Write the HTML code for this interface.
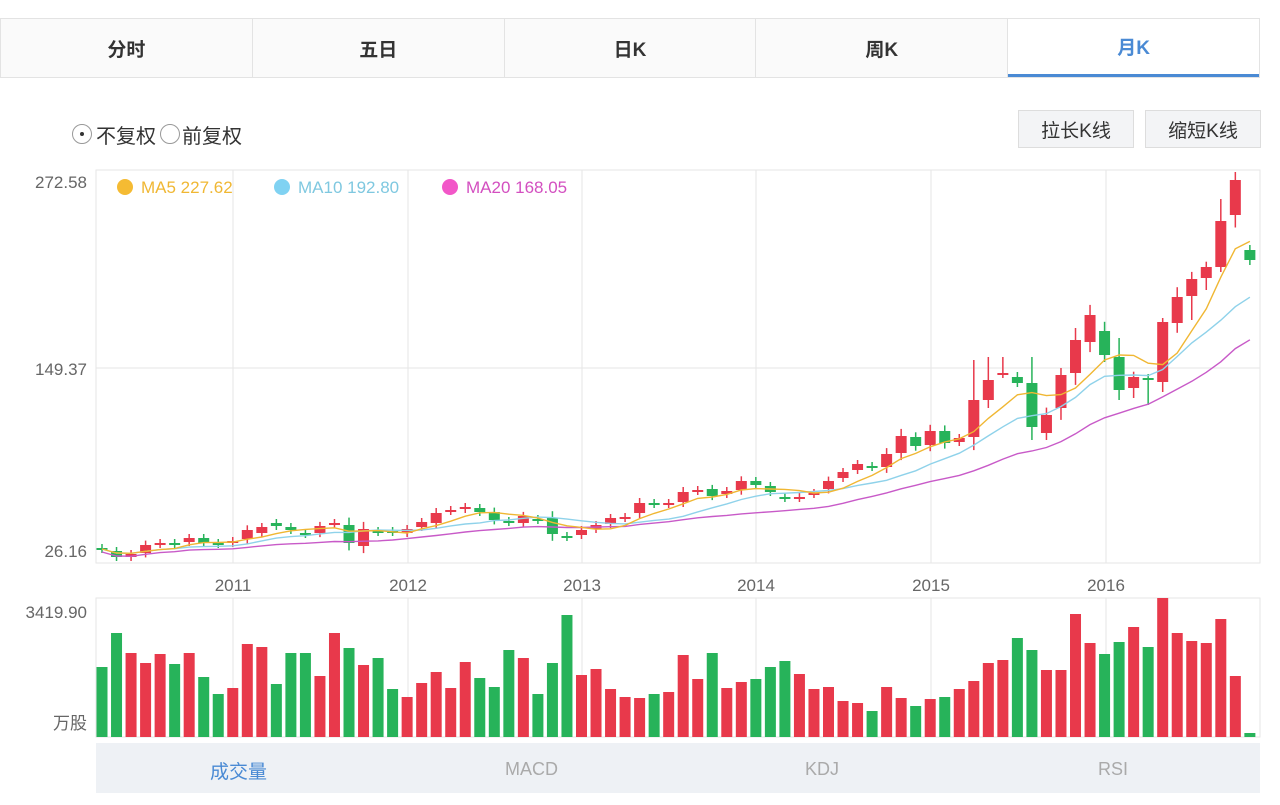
<!DOCTYPE html><html><head><meta charset="utf-8"><style>
body{margin:0;width:1280px;height:805px;background:#fff;font-family:"Liberation Sans","Noto Sans CJK SC",sans-serif;overflow:hidden;position:relative}
.tabs{position:absolute;left:0;top:18px;width:1260px;height:60px;display:flex;border:1px solid #e3e3e3;box-sizing:border-box}
.tab{flex:1;display:flex;align-items:center;justify-content:center;font-size:19px;font-weight:bold;color:#333;border-right:1px solid #e3e3e3;background:#fafafa}
.tab:last-child{border-right:none;color:#4a8ad4;border-bottom:3px solid #4a8ad4;background:#fff}
.t{position:absolute;white-space:nowrap}
.btn{position:absolute;top:110px;height:36px;border:1px solid #ddd;background:#f3f4f6;font-size:19px;color:#333;display:flex;align-items:center;justify-content:center}
.rad{display:inline-block;width:20px;height:20px;border:1px solid #999;border-radius:50%;box-sizing:border-box;position:relative}
</style></head><body>
<div class="tabs"><div class="tab">分时</div><div class="tab">五日</div><div class="tab">日K</div><div class="tab">周K</div><div class="tab">月K</div></div>
<div class="t" style="left:72px;top:121px;height:26px;font-size:20px;color:#333;display:flex;align-items:center"><span class="rad" style="margin-right:4px"><span style="position:absolute;left:7px;top:7px;width:4px;height:4px;background:#333;border-radius:50%"></span></span>不复权<span class="rad" style="margin:0 2px 0 4px"></span>前复权</div>
<div class="btn" style="left:1018px;width:114px">拉长K线</div>
<div class="btn" style="left:1145px;width:114px">缩短K线</div>
<svg id="s" width="1280" height="805" style="position:absolute;left:0;top:0"></svg>
<div style="position:absolute;left:96px;top:743px;width:1164px;height:50px;background:#eef1f5"></div>
<div class="t" style="left:210px;top:757px;font-size:19px;color:#4a8ad4">成交量</div>
<div class="t" style="left:505px;top:759px;font-size:18px;color:#aaa">MACD</div>
<div class="t" style="left:805px;top:759px;font-size:18px;color:#aaa">KDJ</div>
<div class="t" style="left:1098px;top:759px;font-size:18px;color:#aaa">RSI</div>
<script>
var K=[[548,549],[551,557],[554,557],[545,553],[543,544],[543,544],[538,542],[538,543],[543,544],[541,543],[530,539],[527,533],[523,526],[527,530],[533,534],[526,533],[523,524],[525,543],[529,546],[531,532],[531,532],[529,533],[522,527],[513,523],[510,511],[507,509],[508,512],[512,520],[521,522],[516,523],[519,520],[518,534],[536,537],[530,535],[525,529],[518,524],[517,518],[503,513],[503,504],[503,504],[492,502],[490,491],[489,496],[491,494],[481,490],[481,485],[486,492],[497,498],[497,498],[493,494],[481,489],[472,478],[464,470],[466,467],[454,467],[436,453],[437,446],[431,445],[431,443],[438,442],[400,437],[380,400],[373,374],[377,383],[383,427],[415,433],[375,408],[340,373],[315,342],[331,355],[357,390],[377,388],[378,379],[322,382],[297,323],[279,296],[267,278],[221,267],[180,215],[250,260]];
var V=[[667,'g'],[633,'g'],[653,'r'],[663,'r'],[654,'r'],[664,'g'],[653,'r'],[677,'g'],[694,'g'],[688,'r'],[644,'r'],[647,'r'],[684,'g'],[653,'g'],[653,'g'],[676,'r'],[633,'r'],[648,'g'],[665,'r'],[658,'g'],[689,'g'],[697,'r'],[683,'r'],[672,'r'],[688,'r'],[662,'r'],[678,'g'],[687,'g'],[650,'g'],[658,'r'],[694,'g'],[663,'g'],[615,'g'],[675,'r'],[669,'r'],[689,'r'],[697,'r'],[698,'r'],[694,'g'],[692,'r'],[655,'r'],[679,'r'],[653,'g'],[688,'r'],[682,'r'],[679,'g'],[667,'g'],[661,'g'],[674,'r'],[689,'r'],[687,'r'],[701,'r'],[703,'r'],[711,'g'],[687,'r'],[698,'r'],[706,'g'],[699,'r'],[697,'g'],[689,'r'],[681,'r'],[663,'r'],[660,'r'],[638,'g'],[650,'g'],[670,'r'],[670,'r'],[614,'r'],[643,'r'],[654,'g'],[642,'g'],[627,'r'],[647,'g'],[598,'r'],[633,'r'],[641,'r'],[643,'r'],[619,'r'],[676,'r'],[733,'g']];
var s='';
var G='#e6e6e6';
s+='<rect x="96" y="170" width="1164" height="393" fill="none" stroke="'+G+'"/>';
s+='<line x1="96" x2="1260" y1="368" y2="368" stroke="'+G+'"/>';
s+='<rect x="96" y="598" width="1164" height="139" fill="none" stroke="'+G+'"/>';
var yr=[233,408,582,756,931,1106],yl=['2011','2012','2013','2014','2015','2016'];
for(var i=0;i<6;i++){s+='<line x1="'+yr[i]+'" x2="'+yr[i]+'" y1="170" y2="563" stroke="'+G+'"/><line x1="'+yr[i]+'" x2="'+yr[i]+'" y1="598" y2="737" stroke="'+G+'"/><text x="'+yr[i]+'" y="591" font-size="17" fill="#666" text-anchor="middle">'+yl[i]+'</text>';}
s+='<text x="87" y="188" font-size="17" fill="#666" text-anchor="end">272.58</text><text x="87" y="375" font-size="17" fill="#666" text-anchor="end">149.37</text><text x="87" y="557" font-size="17" fill="#666" text-anchor="end">26.16</text><text x="87" y="618" font-size="17" fill="#666" text-anchor="end">3419.90</text><text x="87" y="729" font-size="17" fill="#666" text-anchor="end">万股</text>';
var R='#e8394b',GR='#27b35a';
var hi={78:172,77:199,73:318,64:357,60:360,61:357,62:357,63:372,67:328,66:368,70:338};
var lo={77:272,73:392,64:440,70:400,65:440,71:398,72:405,69:362,76:290,75:320};
var SP=14.53;
var cl=[];
for(var i=0;i<K.length;i++){var x=102+i*SP;var t=K[i][0],b=K[i][1];var up=V[i][1]=='r';var col=up?R:GR;cl.push(up?t:b);var h=b-t,w=Math.max(4,h*0.3+2);
var hh=hi[i]||t-w,ll=lo[i]||b+w;
s+='<line x1="'+x+'" x2="'+x+'" y1="'+hh+'" y2="'+ll+'" stroke="'+col+'" stroke-width="1.5"/><rect x="'+(x-5.5)+'" y="'+t+'" width="11" height="'+Math.max(2,h)+'" fill="'+col+'"/>';
s+='<rect x="'+(x-5.5)+'" y="'+V[i][0]+'" width="11" height="'+(737-V[i][0])+'" fill="'+col+'"/>';}
function ma(n,col,off){var p='';for(var i=0;i<cl.length;i++){var a=0,k=0;for(var j=Math.max(0,i-n+1);j<=i;j++){a+=cl[j];k++}var x=102+i*SP;p+=(i?'L':'M')+x.toFixed(1)+' '+(a/k+off).toFixed(1);}s+='<path d="'+p+'" fill="none" stroke="'+col+'" stroke-width="1.4"/>';}
ma(20,'#c85ac8',3);ma(10,'#8fd2ea',0);ma(5,'#f0b733',0);
s+='<circle cx="125" cy="187" r="8" fill="#f5bb33"/><text x="141" y="193" font-size="17" fill="#f0b733">MA5 227.62</text>';
s+='<circle cx="282" cy="187" r="8" fill="#80d2f2"/><text x="298" y="193" font-size="17" fill="#7fc8e0">MA10 192.80</text>';
s+='<circle cx="450" cy="187" r="8" fill="#f257c8"/><text x="466" y="193" font-size="17" fill="#d34fc0">MA20 168.05</text>';
document.getElementById('s').innerHTML=s;
</script></body></html>
